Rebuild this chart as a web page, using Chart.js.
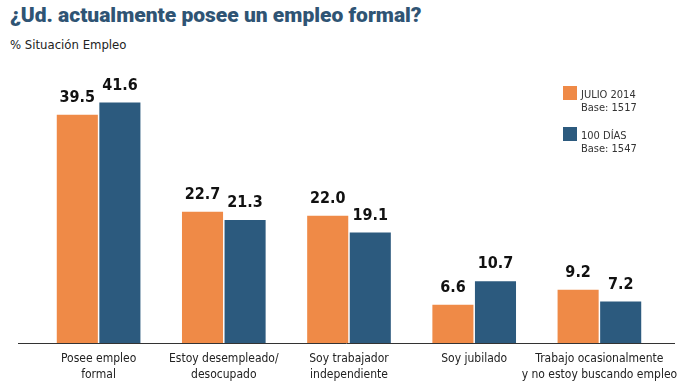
<!DOCTYPE html>
<html lang="es">
<head>
<meta charset="UTF-8">
<title>¿Ud. actualmente posee un empleo formal?</title>
<style>
    body {
        margin: 0;
        background: #ffffff;
        font-family: "DejaVu Sans Condensed", "Roboto", sans-serif;
    }
    .wrap {
        position: relative;
        width: 694px;
        height: 390px;
        overflow: hidden;
    }
    h1 {
        position: absolute;
        left: 10px;
        top: 3px;
        margin: 0;
        font-family: "Roboto", sans-serif;
        font-weight: 900;
        font-size: 21px;
        color: #2f5474;
        white-space: nowrap;
    }
    .sub {
        position: absolute;
        left: 10px;
        top: 37px;
        font-size: 13px;
        color: #222;
    }
    .legend {
        position: absolute;
        left: 563px;
        top: 86px;
        font-size: 11px;
        color: #333;
        line-height: 13px;
    }
    .legend .item {
        position: relative;
        padding-left: 18px;
        height: 41px;
    }
    .legend .box {
        position: absolute;
        left: 0;
        top: 0;
        width: 14px;
        height: 14px;
    }
    canvas { position: absolute; left: 0; top: 0; }
</style>
<script src="https://cdn.jsdelivr.net/npm/chart.js"></script>
</head>
<body>
<div class="wrap">
    <h1>¿Ud. actualmente posee un empleo formal?</h1>
    <div class="sub">% Situación Empleo</div>
    <canvas id="chart" width="694" height="390"></canvas>
    <div class="legend">
        <div class="item"><span class="box" style="background:#ef8a47"></span><div style="padding-top:2px">JULIO 2014</div><div>Base: 1517</div></div>
        <div class="item"><span class="box" style="background:#2c5a7e"></span><div style="padding-top:2px">100 DÍAS</div><div>Base: 1547</div></div>
    </div>
</div>
<script>
// datos
const categorias = [
    ['Posee empleo', 'formal'],
    ['Estoy desempleado/', 'desocupado'],
    ['Soy trabajador', 'independiente'],
    ['Soy jubilado'],
    ['Trabajo ocasionalmente', 'y no estoy buscando empleo']
];
const julio2014 = [39.5, 22.7, 22.0, 6.6, 9.2];
const cienDias = [41.6, 21.3, 19.1, 10.7, 7.2];

// etiquetas sobre las barras y linea base
const etiquetas = {
    id: 'etiquetas',
    afterDatasetsDraw(chart) {
        const ctx = chart.ctx;
        ctx.save();
        ctx.font = 'bold 16px "DejaVu Sans Condensed", sans-serif';
        ctx.fillStyle = '#111';
        ctx.textAlign = 'center';
        ctx.textBaseline = 'bottom';
        chart.data.datasets.forEach((ds, i) => {
            chart.getDatasetMeta(i).data.forEach((bar, j) => {
                ctx.fillText(ds.data[j].toFixed(1), bar.x, bar.y - 9);
            });
        });
        const y = chart.scales.y.getPixelForValue(0);
        ctx.strokeStyle = '#333';
        ctx.lineWidth = 1;
        ctx.beginPath();
        ctx.moveTo(18, y + 0.5);
        ctx.lineTo(675, y + 0.5);
        ctx.stroke();
        ctx.restore();
    }
};

new Chart(document.getElementById('chart'), {
    type: 'bar',
    data: {
        labels: categorias,
        datasets: [
            { label: 'JULIO 2014', data: julio2014, backgroundColor: '#ef8a47' },
            { label: '100 DÍAS', data: cienDias, backgroundColor: '#2c5a7e' }
        ]
    },
    options: {
        responsive: false,
        animation: false,
        layout: { padding: { left: 36, right: 32, top: 54, bottom: 0 } },
        datasets: { bar: { categoryPercentage: 0.68, barPercentage: 0.965 } },
        plugins: {
            legend: { display: false },
            tooltip: { enabled: false }
        },
        scales: {
            x: {
                grid: { display: false },
                border: { display: false },
                ticks: {
                    color: '#222',
                    padding: 0,
                    autoSkip: false,
                    font: { family: '"DejaVu Sans Condensed", sans-serif', size: 12, lineHeight: 1.3 },
                    maxRotation: 0
                },
                afterFit(s) { s.height = 47; }
            },
            y: {
                display: false,
                min: 0,
                max: 50,
                afterFit(s) { s.width = 0; }
            }
        }
    },
    plugins: [etiquetas]
});
</script>
</body>
</html>
